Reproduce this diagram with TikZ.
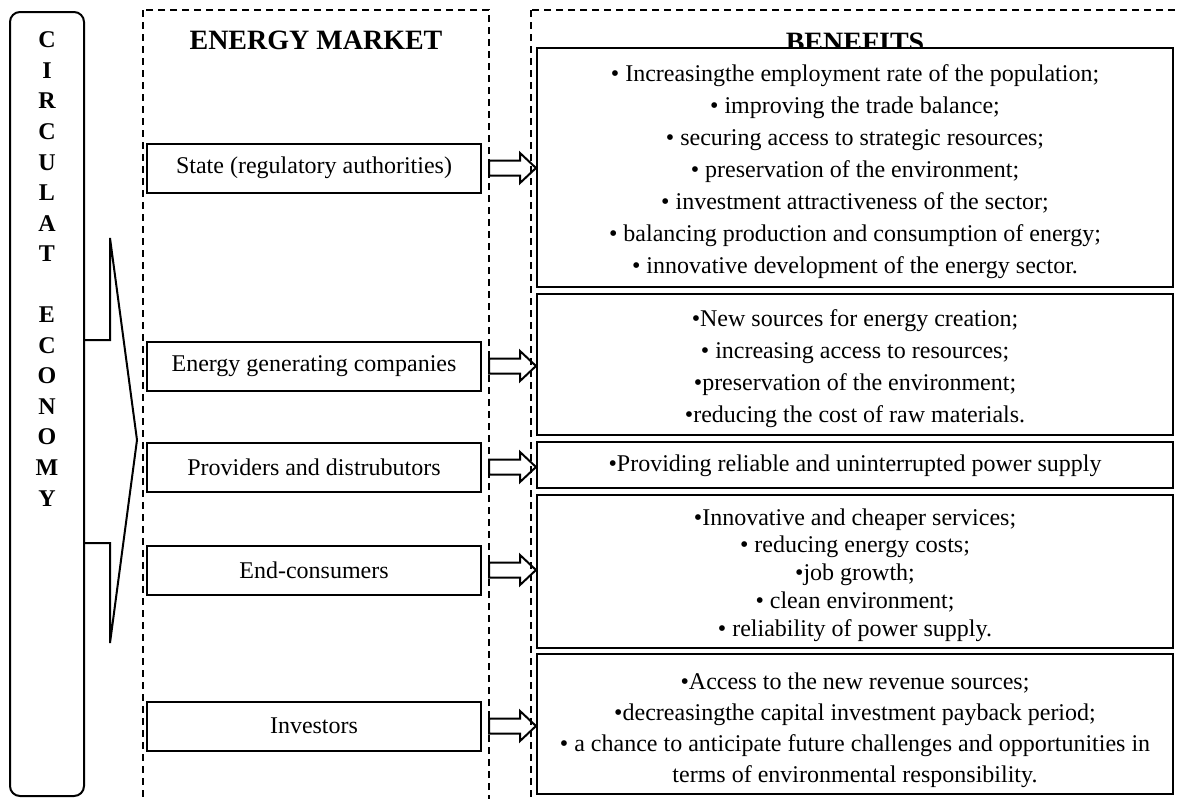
\documentclass[tikz,border=0pt]{standalone}
\usepackage{fontspec}
\setmainfont{Liberation Serif}
\usetikzlibrary{shapes,arrows,positioning}

\tikzset{
    benarrow/.pic={
        \draw[line width=1pt] (0,-7.5) -- (31,-7.5) -- (31,-15) -- (47,0) -- (31,15) -- (31,7.5) -- (0,7.5) -- cycle;
    }
}

\begin{document}
\begin{tikzpicture}[
    x=0.5pt,y=-0.5pt,
    every node/.style={font=\fontsize{12}{16}\selectfont},
    colbox/.style={line width=1pt, dash pattern=on 3.5pt off 2.5pt},
    actorbox/.style={draw, line width=1pt, minimum width=167pt, minimum height=24.5pt, inner sep=0pt},
    benbox/.style={draw, line width=1pt, fill=white, minimum width=318pt, inner sep=0pt},
    bentext/.style={align=center, inner sep=0pt},
    heading/.style={font=\fontsize{14}{16}\selectfont\bfseries, anchor=base}
    ]

                \clip (0,0) rectangle (1178,798);

                \node[
                    draw,
                    line width=1pt,
                    rounded corners=5pt,
                    minimum width=37pt,
                    minimum height=392pt
                    ] (circ) at (47,404) {};

                \node[
                    font=\fontsize{12}{15.27}\selectfont\bfseries,
                    align=center,
                    inner sep=0pt
                    ] (circtext) at (47,269) {C\\I\\R\\C\\U\\L\\A\\T\\~\\E\\C\\O\\N\\O\\M\\Y};

                \draw[
                    line width=1pt
                    ] (84,340) -- (110,340) -- (110,238) -- (137,440) -- (110,643) -- (110,543) -- (84,543);

                \draw[colbox] (143,10) rectangle (489,815);
                \draw[colbox] (531,10) rectangle (1200,815);
                \coordinate (mktR) at (489,0);

                \node[heading] (mkthead) at (316,49) {ENERGY MARKET};
                \node[heading] (benhead) at (855,51) {BENEFITS};

                \node[actorbox] (state) at (314,168) {State (regulatory authorities)};
                \node[actorbox] (gen) at (314,366) {Energy generating companies};
                \node[actorbox] (prov) at (314,467) {Providers and distrubutors};
                \node[actorbox] (cons) at (314,570) {End-consumers};
                \node[actorbox] (inv) at (314,726) {Investors};

                \node[benbox, minimum height=119.5pt] (benstate) at (855,167.5) {};
                \node[bentext, yshift=-2pt] (benstatetxt) at (benstate) {%
                    • Increasingthe employment rate of the population;\\
                    • improving the trade balance;\\
                    • securing access to strategic resources;\\
                    • preservation of the environment;\\
                    • investment attractiveness of the sector;\\
                    • balancing production and consumption of energy;\\
                    • innovative development of the energy sector.};

                \node[benbox, minimum height=70.5pt] (bengen) at (855,364.5) {};
                \node[bentext, yshift=-2pt] (bengentxt) at (bengen) {%
                    •New sources for energy creation;\\
                    • increasing access to resources;\\
                    •preservation of the environment;\\
                    •reducing the cost of raw materials.};

                \node[benbox, minimum height=23pt] (benprov) at (855,465) {};
                \node[bentext, yshift=-0.5pt] (benprovtxt) at (benprov) {•Providing reliable and uninterrupted power supply};

                \node[benbox, minimum height=76.5pt] (bencons) at (855,571.5) {};
                \node[
                    bentext,
                    yshift=-1.75pt,
                    font=\fontsize{12}{13.9}\selectfont
                    ] (benconstxt) at (bencons) {%
                    •Innovative and cheaper services;\\
                    • reducing energy costs;\\
                    •job growth;\\
                    • clean environment;\\
                    • reliability of power supply.};

                \node[benbox, minimum height=70pt] (beninv) at (855,724) {};
                \node[
                    bentext,
                    yshift=-3pt,
                    font=\fontsize{12}{15.5}\selectfont
                    ] (beninvtxt) at (beninv) {%
                    •Access to the new revenue sources;\\
                    •decreasingthe capital investment payback period;\\
                    • a chance to anticipate future challenges and opportunities in\\
                    terms of environmental responsibility.};

                \pic (arrstate) at (state.east -| mktR) {benarrow};
                \pic (arrgen) at (gen.east -| mktR) {benarrow};
                \pic (arrprov) at (prov.east -| mktR) {benarrow};
                \pic (arrcons) at (cons.east -| mktR) {benarrow};
                \pic (arrinv) at (inv.east -| mktR) {benarrow};

\end{tikzpicture}
\end{document}
